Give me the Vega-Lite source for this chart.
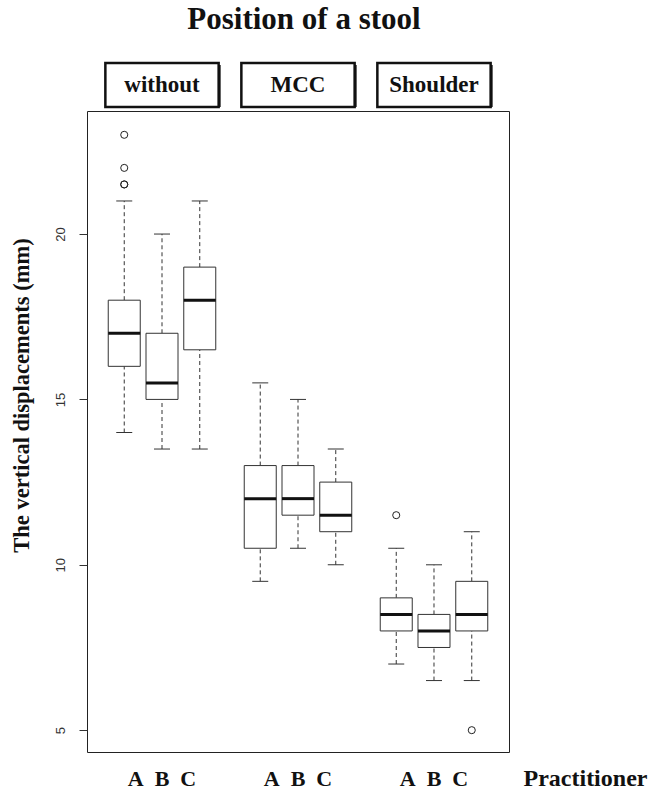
{
  "$schema": "https://vega.github.io/schema/vega-lite/v6.json",
  "autosize": {"type": "pad"},
  "padding": {"left": 9, "top": 3, "right": 0, "bottom": 0},
  "background": "white",
  "title": {"text": "Position of a stool", "font": "Liberation Serif", "fontSize": 31, "fontWeight": "bold", "color": "#111", "anchor": "middle", "frame": "group", "baseline": "alphabetic", "offset": 2, "dx": 6},
  "spacing": 4,
  "bounds": "flush",
  "datasets": {
    "boxes": [
      {"position": "without", "practitioner": "A", "lower": 14, "q1": 16, "median": 17, "q3": 18, "upper": 21},
      {"position": "without", "practitioner": "B", "lower": 13.5, "q1": 15, "median": 15.5, "q3": 17, "upper": 20},
      {"position": "without", "practitioner": "C", "lower": 13.5, "q1": 16.5, "median": 18, "q3": 19, "upper": 21},
      {"position": "MCC", "practitioner": "A", "lower": 9.5, "q1": 10.5, "median": 12, "q3": 13, "upper": 15.5},
      {"position": "MCC", "practitioner": "B", "lower": 10.5, "q1": 11.5, "median": 12, "q3": 13, "upper": 15},
      {"position": "MCC", "practitioner": "C", "lower": 10, "q1": 11, "median": 11.5, "q3": 12.5, "upper": 13.5},
      {"position": "Shoulder", "practitioner": "A", "lower": 7, "q1": 8, "median": 8.5, "q3": 9, "upper": 10.5},
      {"position": "Shoulder", "practitioner": "B", "lower": 6.5, "q1": 7.5, "median": 8, "q3": 8.5, "upper": 10},
      {"position": "Shoulder", "practitioner": "C", "lower": 6.5, "q1": 8, "median": 8.5, "q3": 9.5, "upper": 11}
    ],
    "outliers": [
      {"position": "without", "practitioner": "A", "value": 23},
      {"position": "without", "practitioner": "A", "value": 22},
      {"position": "without", "practitioner": "A", "value": 21.5},
      {"position": "without", "practitioner": "A", "value": 21.5},
      {"position": "Shoulder", "practitioner": "A", "value": 11.5},
      {"position": "Shoulder", "practitioner": "C", "value": 5}
    ],
    "strips": [
      {"position": "without"},
      {"position": "MCC"},
      {"position": "Shoulder"}
    ]
  },
  "vconcat": [
    {
      "width": 422,
      "height": 44,
      "view": {"stroke": null},
      "data": {"name": "strips"},
      "encoding": {
        "x": {"field": "position", "type": "nominal", "scale": {"domain": ["without", "MCC", "Shoulder"], "paddingInner": 0.167, "paddingOuter": 0.135}, "axis": null}
      },
      "layer": [
        {"transform": [{"filter": "datum.position === 'without'"}], "mark": {"type": "bar", "size": 106, "fill": "#111", "xOffset": 2, "x2Offset": 2, "yOffset": 2, "y2Offset": 2}},
        {"transform": [{"filter": "datum.position === 'without'"}], "mark": {"type": "bar", "size": 106, "fill": "white", "stroke": "#111", "strokeWidth": 2.5}},
        {"transform": [{"filter": "datum.position === 'MCC'"}], "mark": {"type": "bar", "size": 88, "fill": "#111", "xOffset": 2, "x2Offset": 2, "yOffset": 2, "y2Offset": 2}},
        {"transform": [{"filter": "datum.position === 'MCC'"}], "mark": {"type": "bar", "size": 88, "fill": "white", "stroke": "#111", "strokeWidth": 2.5}},
        {"transform": [{"filter": "datum.position === 'Shoulder'"}], "mark": {"type": "bar", "size": 124, "fill": "#111", "xOffset": 2, "x2Offset": 2, "yOffset": 2, "y2Offset": 2}},
        {"transform": [{"filter": "datum.position === 'Shoulder'"}], "mark": {"type": "bar", "size": 124, "fill": "white", "stroke": "#111", "strokeWidth": 2.5}},
        {"mark": {"type": "text", "font": "Liberation Serif", "fontSize": 23, "fontWeight": "bold", "color": "#111", "baseline": "middle"}, "encoding": {"text": {"field": "position"}}}
      ]
    },
    {
      "width": 422,
      "height": 641,
      "view": {"stroke": "#222", "strokeWidth": 1},
      "encoding": {
        "x": {
          "field": "position", "type": "nominal",
          "scale": {"domain": ["without", "MCC", "Shoulder"], "paddingInner": 0.167, "paddingOuter": 0.135},
          "axis": {
            "labelExpr": "'A\u00a0\u00a0B\u00a0\u00a0C'",
            "labelFont": "Liberation Serif", "labelFontSize": 22, "labelFontWeight": "bold", "labelColor": "#111",
            "labelAngle": 0, "labelBaseline": "alphabetic", "labelPadding": 33,
            "ticks": false, "tickSize": 0, "domain": false, "grid": false,
            "title": "Practitioner", "titleFont": "Liberation Serif", "titleFontSize": 24, "titleFontWeight": "bold", "titleColor": "#111",
            "titleX": 436, "titleY": 33, "titleAlign": "left", "titleBaseline": "alphabetic", "titleAnchor": "start"
          }
        },
        "xOffset": {"field": "practitioner", "type": "nominal", "scale": {"domain": ["A", "B", "C"], "paddingInner": 0, "paddingOuter": 0}}
      },
      "layer": [
        {
          "data": {"name": "boxes"},
          "mark": {"type": "rule", "strokeDash": [4, 3], "stroke": "#333", "strokeWidth": 1},
          "encoding": {
            "y": {
              "field": "lower", "type": "quantitative", "title": "The vertical displacements (mm)",
              "scale": {"domain": [4.34, 23.72], "nice": false, "zero": false},
              "axis": {
                "values": [5, 10, 15, 20], "labelAngle": -90, "labelAlign": "center", "labelBaseline": "bottom",
                "labelFont": "Liberation Sans", "labelFontSize": 13, "labelColor": "#333", "labelPadding": 12,
                "tickSize": 8, "tickColor": "#333", "domain": false, "grid": false,
                "titleFont": "Liberation Serif", "titleFontSize": 22.5, "titleFontWeight": "bold", "titleColor": "#111",
                "titleX": -66, "titleY": 284, "titleAngle": -90, "titleAlign": "center", "titleBaseline": "middle"
              }
            },
            "y2": {"field": "q1"}
          }
        },
        {
          "data": {"name": "boxes"},
          "mark": {"type": "rule", "strokeDash": [4, 3], "stroke": "#333", "strokeWidth": 1},
          "encoding": {
            "y": {"field": "q3", "type": "quantitative", "title": "The vertical displacements (mm)"},
            "y2": {"field": "upper"}
          }
        },
        {
          "data": {"name": "boxes"},
          "mark": {"type": "tick", "size": 16, "thickness": 1, "color": "#333", "opacity": 1},
          "encoding": {"y": {"field": "lower", "type": "quantitative", "title": "The vertical displacements (mm)"}}
        },
        {
          "data": {"name": "boxes"},
          "mark": {"type": "tick", "size": 16, "thickness": 1, "color": "#333", "opacity": 1},
          "encoding": {"y": {"field": "upper", "type": "quantitative", "title": "The vertical displacements (mm)"}}
        },
        {
          "data": {"name": "boxes"},
          "mark": {"type": "bar", "size": 32, "fill": "white", "stroke": "#333", "strokeWidth": 1},
          "encoding": {
            "y": {"field": "q1", "type": "quantitative", "title": "The vertical displacements (mm)"},
            "y2": {"field": "q3"}
          }
        },
        {
          "data": {"name": "boxes"},
          "mark": {"type": "tick", "size": 32, "thickness": 3, "color": "#111", "opacity": 1},
          "encoding": {"y": {"field": "median", "type": "quantitative", "title": "The vertical displacements (mm)"}}
        },
        {
          "data": {"name": "outliers"},
          "mark": {"type": "point", "shape": "circle", "filled": false, "stroke": "#222", "strokeWidth": 1, "size": 50, "opacity": 1},
          "encoding": {"y": {"field": "value", "type": "quantitative", "title": "The vertical displacements (mm)"}}
        }
      ]
    }
  ]
}
